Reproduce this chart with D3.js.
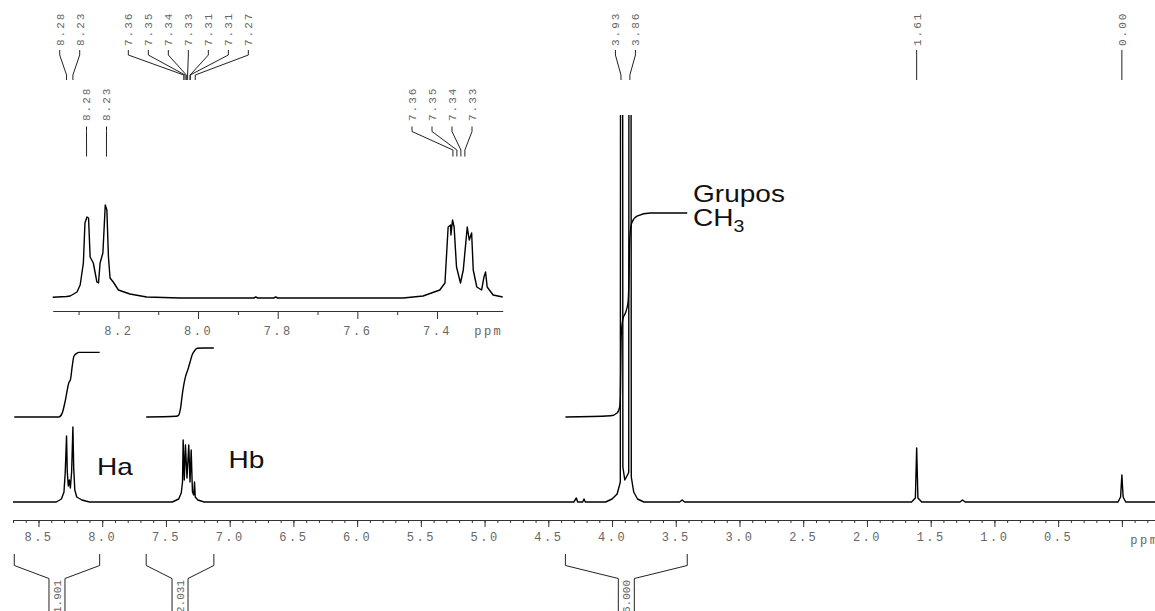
<!DOCTYPE html>
<html>
<head>
<meta charset="utf-8">
<script src="https://cdn.jsdelivr.net/npm/d3@7"></script>
<style>
  body { margin: 0; background: #fff; }
  svg { display: block; }
  .axis { color: #333; }
  .axis text, .mono {
    font-family: 'Liberation Mono', 'DejaVu Sans Mono', monospace;
    fill: #666;
  }
  .axis text { font-size: 12px; letter-spacing: 2.5px; }
  .mono { font-size: 11px; letter-spacing: 2px; }
  .mono.int { letter-spacing: 0; }
  .note { font-family: 'Liberation Sans', Arial, sans-serif; fill: #111; }
</style>
</head>
<body>
<div id="chart"></div>
<script>
// main spectrum, [ppm, intensity]
const mainSpectrum = [
  [8.70, 0], [8.36, 0], [8.32, 3], [8.30, 10], [8.29, 30], [8.28, 66], [8.274, 30], [8.266, 16],
  [8.258, 22], [8.25, 14], [8.24, 30], [8.23, 75], [8.224, 35], [8.215, 12], [8.20, 5], [8.16, 2], [8.10, 0],
  [7.45, 0], [7.40, 3], [7.38, 9], [7.37, 20], [7.365, 62], [7.356, 22], [7.347, 57], [7.335, 24],
  [7.321, 57], [7.311, 20], [7.302, 52], [7.292, 10], [7.282, 7], [7.276, 20], [7.27, 5], [7.25, 2], [7.20, 0],
  [4.30, 0], [4.28, 4], [4.27, 0], [4.23, 0], [4.22, 3], [4.21, 0],
  [4.05, 0], [4.00, 3], [3.96, 8], [3.935, 20], [3.926, 2600], [3.915, 35], [3.90, 22], [3.875, 28],
  [3.869, 30], [3.86, 2600], [3.849, 25], [3.83, 10], [3.80, 3], [3.75, 0],
  [3.47, 0], [3.45, 2], [3.43, 0],
  [1.65, 0], [1.62, 4], [1.61, 54], [1.60, 4], [1.57, 0],
  [1.27, 0], [1.25, 2], [1.23, 0],
  [0.03, 0], [0.01, 5], [0.00, 27], [-0.01, 5], [-0.03, 0], [-0.26, 0]
];

// expanded aromatic region
const insetSpectrum = [
  [8.365, 0.7], [8.33, 1.5], [8.321, 2], [8.304, 6], [8.296, 13], [8.288, 35], [8.284, 75], [8.279, 81],
  [8.275, 80], [8.271, 41], [8.263, 35], [8.254, 16], [8.25, 15], [8.246, 35], [8.239, 45], [8.233, 93],
  [8.229, 88], [8.225, 41], [8.221, 20], [8.213, 16], [8.20, 8], [8.171, 4], [8.129, 1], [8.045, 0],
  [7.86, 0], [7.855, 1], [7.85, 0], [7.81, 0], [7.805, 1], [7.80, 0], [7.485, 0], [7.435, 2], [7.393, 8],
  [7.38, 15], [7.372, 71], [7.366, 73], [7.365, 63], [7.361, 78], [7.357, 71], [7.351, 31], [7.341, 15],
  [7.334, 28], [7.324, 71], [7.319, 58], [7.313, 65], [7.309, 28], [7.300, 11], [7.288, 8], [7.282, 21],
  [7.278, 26], [7.274, 11], [7.259, 3], [7.235, 1]
];

// integrals: [ppm, fraction of the integral]
const integralValues = [1.901, 2.031, 6.000];
const integralCurves = [
  [[8.69, 0], [8.34, 0], [8.314, 0.06], [8.288, 0.27], [8.262, 0.53], [8.249, 0.58], [8.235, 0.79],
   [8.222, 0.94], [8.20, 0.985], [8.183, 1], [8.02, 1]],
  [[7.655, 0], [7.42, 0.01], [7.399, 0.03], [7.386, 0.12], [7.37, 0.35], [7.347, 0.58], [7.329, 0.68],
   [7.31, 0.8], [7.294, 0.9], [7.275, 0.96], [7.255, 0.995], [7.20, 1], [7.124, 1]],
  [[4.366, 0], [4.012, 0.006], [3.96, 0.02], [3.94, 0.05], [3.935, 0.1], [3.928, 0.4], [3.915, 0.48],
   [3.895, 0.51], [3.875, 0.56], [3.868, 0.65], [3.862, 0.86], [3.853, 0.93], [3.843, 0.955],
   [3.804, 0.985], [3.70, 1], [3.41, 1]]
];

// picked peaks
const mainPeakGroups = [[8.28, 8.23], [7.36, 7.35, 7.34, 7.33, 7.31, 7.31, 7.27], [3.93, 3.86], [1.61], [0.00]];
const insetPeakGroups = [[8.28, 8.23], [7.36, 7.35, 7.34, 7.33]];

const mainTicks = d3.range(0, 18).map(i => i * 0.5);
const mainMinorTicks = d3.range(-2, 88).map(i => i / 10);
const insetTicks = [8.2, 8.0, 7.8, 7.6, 7.4];
const insetMinorTicks = [8.3, 8.1, 7.9, 7.7, 7.5, 7.3];

const annotations = [
  { text: 'Ha', ppm: 8.04, v: 27 },
  { text: 'Hb', ppm: 7.01, v: 34 },
  { text: 'Grupos', ppm: 3.365, v: 300 },
  { text: 'CH', sub: '3', ppm: 3.365, v: 276 }
];

const svgWidth = 1155, svgHeight = 611;

const svg = d3.select('#chart')
              .append('svg')
              .attr('width', svgWidth)
              .attr('height', svgHeight);

const x = d3.scaleLinear().domain([8.70, -0.26]).range([13, 1155]);
const y = d3.scaleLinear().domain([0, 400]).range([502, 102]);
const yInt = d3.scaleLinear().domain([0, 6]).range([417, 213]);

const xIn = d3.scaleLinear().domain([8.365, 7.235]).range([52.7, 502.7]);
const yIn = d3.scaleLinear().domain([0, 100]).range([298, 198]);

svg.append('clipPath')
  .attr('id', 'clip')
  .append('rect')
  .attr('x', 0).attr('y', 115)
  .attr('width', svgWidth).attr('height', 400);

// spectrum
svg.append('path')
  .datum(mainSpectrum)
  .attr('clip-path', 'url(#clip)')
  .attr('fill', 'none')
  .attr('stroke', '#000')
  .attr('stroke-width', 1.4)
  .attr('stroke-linejoin', 'round')
  .attr('d', d3.line().x(d => x(d[0])).y(d => y(d[1])));

// integral curves
integralCurves.forEach((curve, i) => {
  svg.append('path')
    .datum(curve)
    .attr('fill', 'none')
    .attr('stroke', '#000')
    .attr('stroke-width', 1.4)
    .attr('d', d3.line()
      .curve(d3.curveMonotoneX)
      .x(d => x(d[0]))
      .y(d => yInt(d[1] * integralValues[i])));
});

// main axis
const axisG = svg.append('g')
  .attr('class', 'axis')
  .attr('transform', 'translate(0,520)');

axisG.call(d3.axisBottom(x)
  .tickValues(mainTicks)
  .tickSize(7)
  .tickSizeOuter(0)
  .tickPadding(5)
  .tickFormat(d => d === 0 ? '' : d3.format('.1f')(d)));

axisG.append('g')
  .call(d3.axisBottom(x).tickValues(mainMinorTicks).tickSize(3).tickFormat(''))
  .select('.domain').remove();

axisG.append('text')
  .attr('x', x(-0.18))
  .attr('y', 15)
  .attr('dy', '0.71em')
  .attr('text-anchor', 'middle')
  .text('ppm');

// peak labels
function labelPositions(xs, spacing, maxX) {
  let start = d3.mean(xs) - spacing * (xs.length - 1) / 2;
  const end = start + spacing * (xs.length - 1);
  if (maxX && end > maxX) start -= end - maxX;
  return xs.map((_, i) => start + i * spacing);
}

function drawPeakLabels(groups, scale, geo) {
  const g = svg.append('g');
  groups.forEach(group => {
    const px = group.map(scale);
    const lx = labelPositions(px, geo.spacing, geo.maxX);
    group.forEach((p, i) => {
      g.append('text')
        .attr('class', 'mono')
        .attr('transform', `translate(${lx[i]},${geo.textBottom}) rotate(-90)`)
        .attr('dy', '0.35em')
        .text(d3.format('.2f')(p));
      g.append('path')
        .attr('fill', 'none')
        .attr('stroke', '#222')
        .attr('d', `M${lx[i]},${geo.y0}V${geo.y1}L${px[i]},${geo.y2}V${geo.y3}`);
    });
  });
}

drawPeakLabels(mainPeakGroups, x, { spacing: 20, textBottom: 46, y0: 50, y1: 55, y2: 75, y3: 80 });

// inset
const inset = svg.append('g');

inset.append('path')
  .datum(insetSpectrum)
  .attr('fill', 'none')
  .attr('stroke', '#000')
  .attr('stroke-width', 1.4)
  .attr('stroke-linejoin', 'round')
  .attr('d', d3.line().x(d => xIn(d[0])).y(d => yIn(d[1])));

const insetAxis = inset.append('g')
  .attr('class', 'axis')
  .attr('transform', 'translate(0,311)');

insetAxis.call(d3.axisBottom(xIn)
  .tickValues(insetTicks)
  .tickSize(8)
  .tickSizeOuter(0)
  .tickPadding(7)
  .tickFormat(d3.format('.1f')));

insetAxis.append('g')
  .call(d3.axisBottom(xIn).tickValues(insetMinorTicks).tickSize(4).tickFormat(''))
  .select('.domain').remove();

insetAxis.append('text')
  .attr('x', xIn(7.27))
  .attr('y', 15)
  .attr('dy', '0.71em')
  .attr('text-anchor', 'middle')
  .text('ppm');

drawPeakLabels(insetPeakGroups, xIn, { spacing: 20, maxX: 472, textBottom: 121, y0: 126.5, y1: 131.5, y2: 150, y3: 156.5 });

// integral brackets under the axis
integralCurves.forEach((curve, i) => {
  const x0 = x(curve[0][0]);
  const x1 = x(curve[curve.length - 1][0]);
  const cx = (x0 + x1) / 2;
  const g = svg.append('g');
  g.append('path')
    .attr('fill', 'none')
    .attr('stroke', '#222')
    .attr('d', `M${x0},554V565.5L${cx - 8},578.5V615M${x1},554V565.5L${cx + 8},578.5V615`);
  g.append('text')
    .attr('class', 'mono int')
    .attr('text-anchor', 'end')
    .attr('transform', `translate(${cx},580) rotate(-90)`)
    .attr('dy', '0.35em')
    .text(d3.format('.3f')(integralValues[i]));
});

// labels
annotations.forEach(a => {
  const t = svg.append('text')
    .attr('class', 'note')
    .attr('transform', `translate(${x(a.ppm)},${y(a.v)}) scale(1.22,1)`)
    .attr('font-size', 23)
    .text(a.text);
  if (a.sub) {
    t.append('tspan')
      .attr('font-size', 16)
      .attr('dy', 6)
      .text(a.sub);
  }
});
</script>
</body>
</html>
